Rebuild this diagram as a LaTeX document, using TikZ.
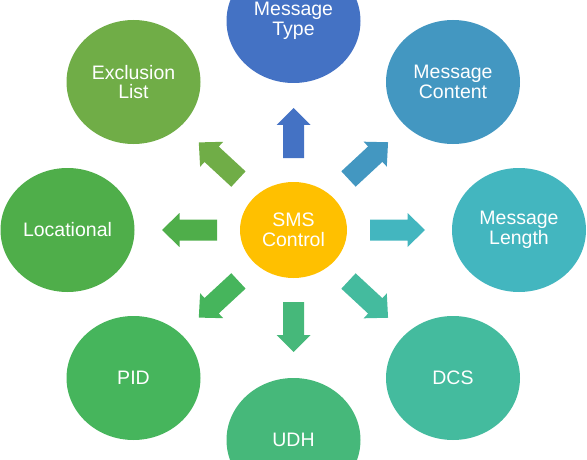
\documentclass[tikz,border=0pt]{standalone}
\usepackage{fontspec}
\setmainfont{Liberation Sans}
\usetikzlibrary{shapes.geometric,calc}
\definecolor{typeblue}{HTML}{4472C4}
\definecolor{contentblue}{HTML}{4397C1}
\definecolor{lengthteal}{HTML}{43B6BF}
\definecolor{dcsgreen}{HTML}{44BB9E}
\definecolor{udhgreen}{HTML}{46B87A}
\definecolor{pidgreen}{HTML}{46B55C}
\definecolor{locgreen}{HTML}{4FAE4A}
\definecolor{exclgreen}{HTML}{70AD47}
\definecolor{smsyellow}{HTML}{FFC000}
\newcommand\blockarr[6]{%
  \fill[#6] ($(#1)!#3!(#2)!10.5pt!90:(#2)$)
    -- ($(#1)!#4!(#2)!10.5pt!90:(#2)$)
    -- ($(#1)!#4!(#2)!17pt!90:(#2)$)
    -- ($(#1)!#5!(#2)$)
    -- ($(#1)!#4!(#2)!17pt!-90:(#2)$)
    -- ($(#1)!#4!(#2)!10.5pt!-90:(#2)$)
    -- ($(#1)!#3!(#2)!10.5pt!-90:(#2)$) -- cycle;}
\tikzset{
  bubble/.style={ellipse, minimum width=134pt, minimum height=124pt, inner sep=0pt,
    text=white, align=center, font=\fontsize{19.5}{19.5}\selectfont},
  hub/.style={bubble, minimum width=107pt, minimum height=96pt}
}
\begin{document}
\begin{tikzpicture}[x=1pt,y=-1pt]
\useasboundingbox (0,0) rectangle (587,460);
\clip (0,0) rectangle (587,460);
\node[hub, fill=smsyellow] (c) at (293.5,230) {SMS\\Control};
\node[bubble, fill=typeblue] (type) at (293.5,21) {Message\\Type};
\node[bubble, fill=contentblue] (content) at (453,82) {Message\\Content};
\node[bubble, fill=lengthteal] (length) at (519,230) {Message\\Length};
\node[bubble, fill=dcsgreen] (dcs) at (453,378) {DCS};
\node[bubble, fill=udhgreen] (udh) at (293.5,440) {UDH};
\node[bubble, fill=pidgreen] (pid) at (133.5,378) {PID};
\node[bubble, fill=locgreen] (loc) at (67.5,230) {Locational};
\node[bubble, fill=exclgreen] (excl) at (133.5,82) {Exclusion\\List};
\blockarr{c}{type}{72pt}{105pt}{122pt}{typeblue}
\blockarr{c}{udh}{72pt}{105pt}{122pt}{udhgreen}
\blockarr{c}{length}{76.5pt}{114pt}{131.5pt}{lengthteal}
\blockarr{c}{loc}{76.5pt}{114pt}{131.5pt}{locgreen}
\blockarr{c}{content}{75pt}{111.5pt}{129pt}{contentblue}
\blockarr{c}{dcs}{75pt}{111.5pt}{129pt}{dcsgreen}
\blockarr{c}{pid}{75pt}{111.5pt}{129pt}{pidgreen}
\blockarr{c}{excl}{75pt}{111.5pt}{129pt}{exclgreen}
\end{tikzpicture}
\end{document}
